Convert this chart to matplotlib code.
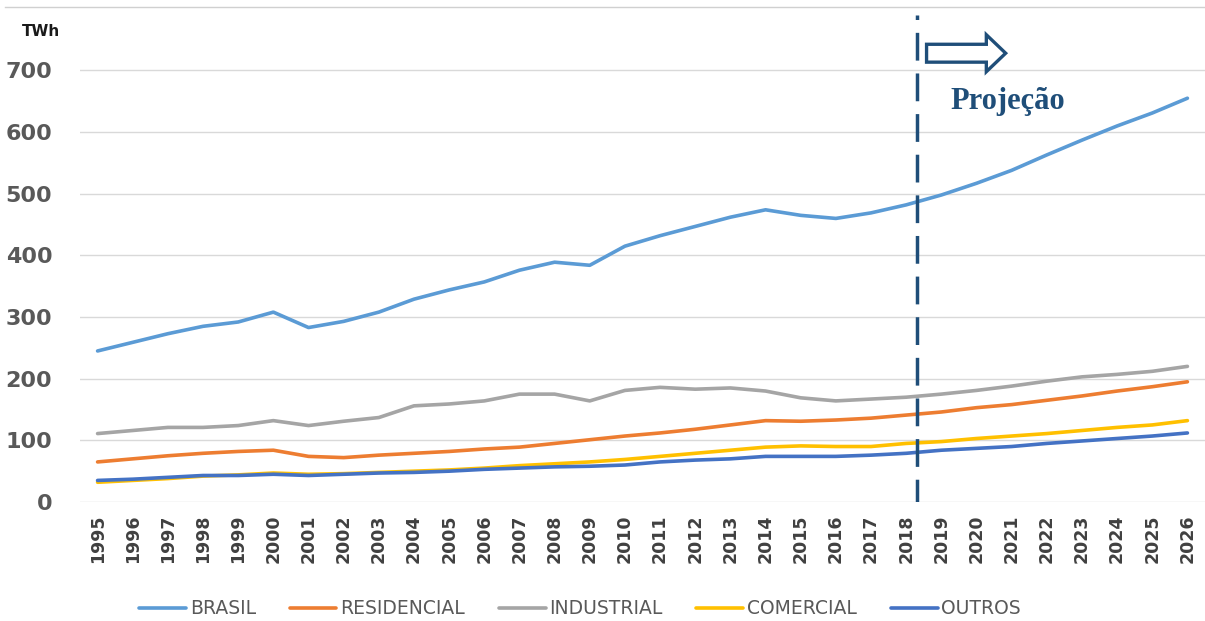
import numpy as np
import matplotlib
matplotlib.use("Agg")
import matplotlib.pyplot as plt
from matplotlib.patches import FancyArrow
from matplotlib.lines import Line2D

# Consumo de energia por classe (TWh)
years = list(range(1995, 2027))
brasil = [245, 259, 273, 285, 292, 308, 283, 293, 308, 329, 344, 357, 376, 389, 384, 415,
          432, 447, 462, 474, 465, 460, 469, 482, 498, 517, 538, 563, 587, 610, 631, 655]
residencial = [65, 70, 75, 79, 82, 84, 74, 72, 76, 79, 82, 86, 89, 95, 101, 107,
               112, 118, 125, 132, 131, 133, 136, 141, 146, 153, 158, 165, 172, 180, 187, 195]
industrial = [111, 116, 121, 121, 124, 132, 124, 131, 137, 156, 159, 164, 175, 175, 164, 181,
              186, 183, 185, 180, 169, 164, 167, 170, 175, 181, 188, 196, 203, 207, 212, 220]
comercial = [32, 35, 38, 42, 44, 47, 45, 46, 48, 50, 52, 55, 59, 62, 65, 69,
             74, 79, 84, 89, 91, 90, 90, 95, 98, 103, 107, 111, 116, 121, 125, 132]
outros = [35, 37, 40, 43, 43, 45, 43, 45, 47, 48, 50, 53, 55, 57, 58, 60,
          65, 68, 70, 74, 74, 74, 76, 79, 84, 87, 90, 95, 99, 103, 107, 112]

series = [("BRASIL", brasil, "#5B9BD5"),
          ("RESIDENCIAL", residencial, "#ED7D31"),
          ("INDUSTRIAL", industrial, "#A5A5A5"),
          ("COMERCIAL", comercial, "#FFC000"),
          ("OUTROS", outros, "#4472C4")]

proj_year = 2018.32
navy = "#1F4E79"

fig = plt.figure(figsize=(12.05, 6.21), dpi=100)
ax = fig.add_axes([80 / 1205, 1 - 502 / 621, 1125 / 1205, 487 / 621])

for name, vals, color in series:
    ax.plot(years, vals, color=color, lw=2.6, label=name, solid_capstyle="round")

ax.set_xlim(1994.5, 2026.5)
ax.set_ylim(0, 790)
ax.set_yticks(range(0, 701, 100))
ax.set_xticks(years)
ax.set_xticklabels([str(y) for y in years], rotation=90, fontsize=12.5,
                   fontweight="bold", color="#404040")
for lbl in ax.get_yticklabels():
    lbl.set_fontsize(16)
    lbl.set_fontweight("bold")
    lbl.set_color("#595959")
ax.tick_params(axis="x", length=0, pad=9)
ax.tick_params(axis="y", length=0, pad=20)
ax.grid(axis="y", color="#D9D9D9", lw=1)
ax.set_axisbelow(True)
for s in ax.spines.values():
    s.set_visible(False)

# projection marker
ax.axvline(proj_year, ymin=-0.01, ymax=1, color=navy, lw=2.5, ls=(0, (8, 3.7)))
ax.add_patch(FancyArrow(2018.58, 728, 2.25, 0, width=29, head_width=60,
                        head_length=0.55, length_includes_head=True,
                        facecolor="white", edgecolor=navy, lw=2.4))
ax.text(2020.9, 650, "Projeção", ha="center", va="center", fontsize=22,
        fontweight="bold", color=navy, family=["Liberation Serif", "DejaVu Serif"])

fig.text(22 / 1205, 1 - 31 / 621, "TWh", fontsize=11, fontweight="bold",
         color="#1a1a1a", va="center")
fig.add_artist(Line2D([5 / 1205, 1], [1 - 7 / 621, 1 - 7 / 621],
                      color="#D0D0D0", lw=1, transform=fig.transFigure))

leg = fig.legend(loc="center", bbox_to_anchor=(580 / 1205, 1 - 609 / 621), ncol=5,
                 frameon=False, handlelength=2.5, handletextpad=0.2, columnspacing=1.8,
                 prop={"family": ["Liberation Sans Narrow", "DejaVu Sans"], "size": 13.5})
for t in leg.get_texts():
    t.set_color("#595959")

fig.savefig("out.png", dpi=100, facecolor="white")
